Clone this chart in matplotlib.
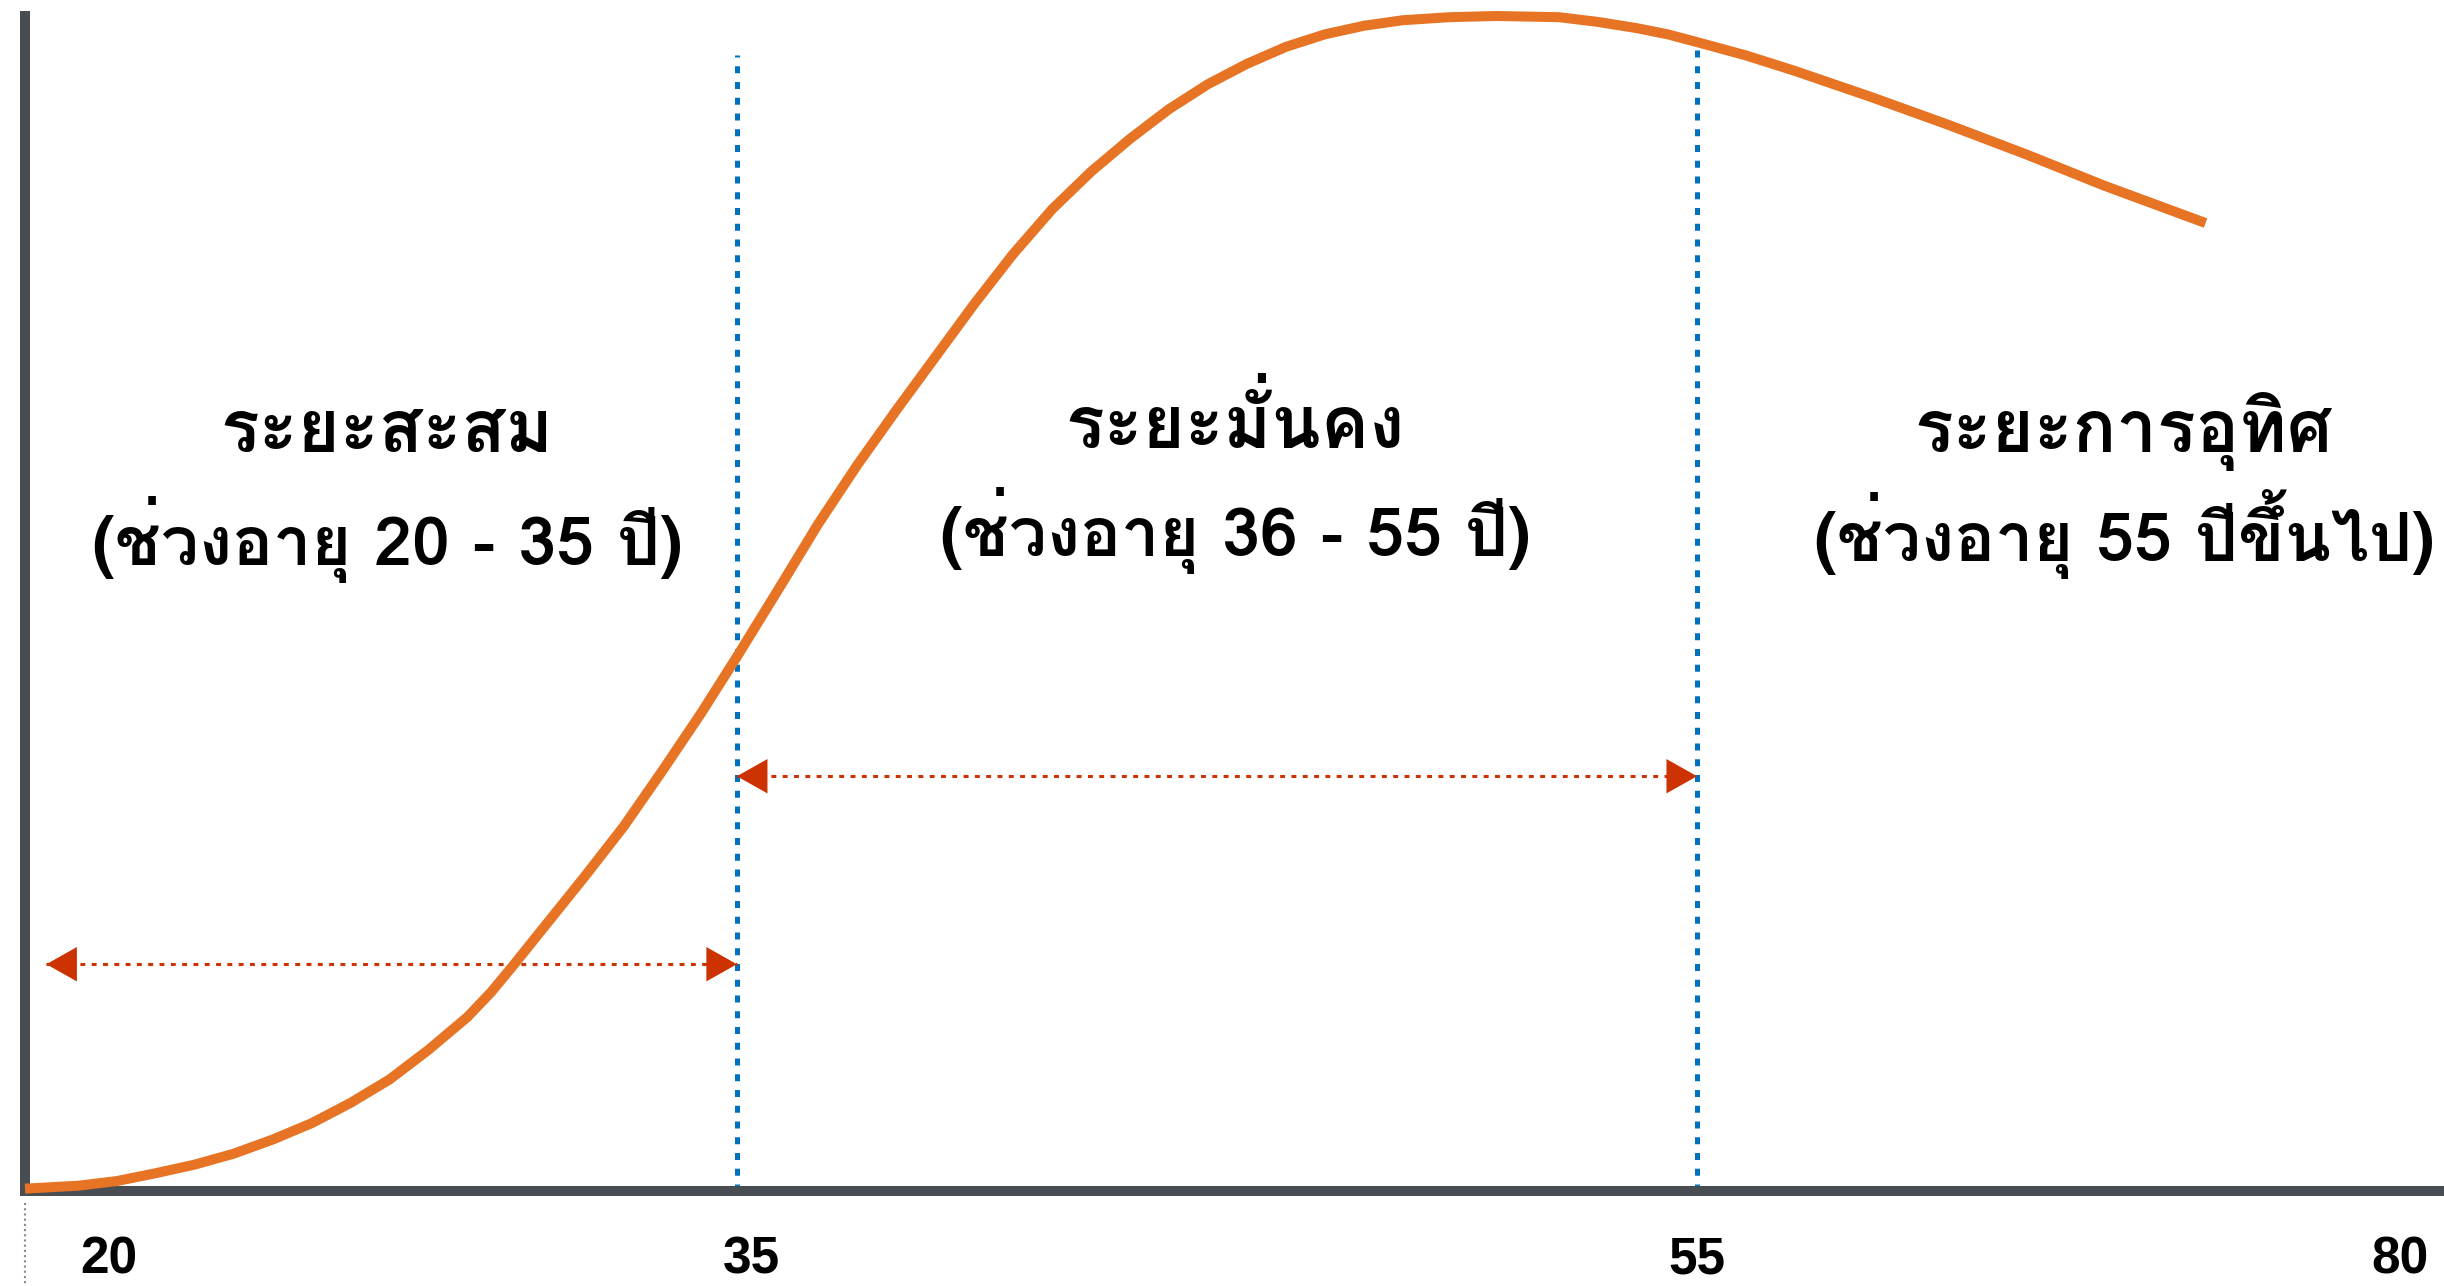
import matplotlib
matplotlib.use("Agg")
import numpy as np
import matplotlib.pyplot as plt
import matplotlib.transforms as mtrans
from matplotlib import font_manager
from matplotlib.ft2font import FT2Font

# ข้อมูลเส้นโค้ง (อายุ, ระดับความมั่งคั่ง 0-100)
ages = [20.0, 21.12, 21.94, 22.76, 23.58, 24.40, 25.22, 26.04, 26.86, 27.68,
        28.50, 29.32, 29.82, 30.31, 30.97, 31.79, 32.61, 33.43, 34.25, 35.0,
        35.88, 36.69, 37.51, 38.32, 39.13, 39.94, 40.75, 41.57, 42.38, 43.19,
        44.0, 44.81, 45.62, 46.44, 47.25, 48.06, 48.87, 49.85, 50.82, 52.12,
        52.93, 53.74, 54.39, 55.0, 56.63, 58.20, 60.80, 63.41, 66.02, 68.63,
        72.02]
wealth = [0.2, 0.45, 0.85, 1.52, 2.25, 3.18, 4.38, 5.77, 7.50, 9.49,
          12.01, 14.80, 16.92, 19.31, 22.63, 26.75, 31.00, 35.77, 40.69, 45.47,
          51.31, 56.75, 61.80, 66.45, 70.96, 75.47, 79.72, 83.57, 86.76, 89.55,
          92.07, 94.19, 95.92, 97.38, 98.44, 99.17, 99.64, 99.90, 100.0, 99.90,
          99.50, 98.97, 98.44, 97.78, 96.65, 95.39, 93.13, 90.74, 88.22, 85.56,
          82.38]

tick_ages = [20, 35, 55, 80]
tick_labels = ["20", "35", "55", "80"]
phase_bounds = [35, 55]
phase_titles = ["ระยะสะสม", "ระยะมั่นคง", "ระยะการอุทิศ"]
phase_ranges = ["(ช่วงอายุ 20 - 35 ปี)", "(ช่วงอายุ 36 - 55 ปี)", "(ช่วงอายุ 55 ปีขึ้นไป)"]
arrow_spans = [(20.45, 35, 19.3), (35, 55, 35.3)]


def หา_ฟอนต์ไทย():
    for f in font_manager.fontManager.ttflist:
        try:
            if 0x0E23 in FT2Font(f.fname).get_charmap():
                return f.name
        except Exception:
            pass
    return "DejaVu Sans"


thai = หา_ฟอนต์ไทย()

# สเกลแกน x แบบเป็นช่วง (20-55 ห่างเท่ากัน, 55-80 ถูกบีบ)
knot_pos = [0.0, 0.2943, 0.6912, 1.0]


def forward(a):
    return np.interp(a, tick_ages, knot_pos)


def inverse(p):
    return np.interp(p, knot_pos, tick_ages)


fig = plt.figure(figsize=(24.44, 12.86), dpi=100)
ax = fig.add_axes([25 / 2444, 95 / 1286, 1 - 25 / 2444, 1175 / 1286])
ax.set_xscale("function", functions=(forward, inverse))
ax.set_xlim(20, 80)
ax.set_ylim(0, 100)

axis_col = "#474D50"
for s in ["top", "right"]:
    ax.spines[s].set_visible(False)
for s in ["left", "bottom"]:
    ax.spines[s].set_color(axis_col)
    ax.spines[s].set_linewidth(7.2)
ax.set_yticks([])

ax.set_xticks(tick_ages, tick_labels)
ax.tick_params(axis="x", length=0, pad=32)
for lab in ax.get_xticklabels():
    lab.set_fontfamily("Liberation Sans")
    lab.set_fontweight("bold")
    lab.set_fontsize(37)
    lab.set_color("black")

# เลื่อน label ปลายทั้งสองด้าน
labs = ax.get_xticklabels()
labs[0].set_transform(labs[0].get_transform() + mtrans.ScaledTranslation(84 / 100, 0, fig.dpi_scale_trans))
labs[1].set_transform(labs[1].get_transform() + mtrans.ScaledTranslation(14 / 100, 0, fig.dpi_scale_trans))
labs[3].set_transform(labs[3].get_transform() + mtrans.ScaledTranslation(-44 / 100, 0, fig.dpi_scale_trans))

# เส้นประแนวตั้งสีน้ำเงิน
tops = [96.7, 97.4]
for b, t in zip(phase_bounds, tops):
    ax.plot([b, b], [0, t], color="#0070C0", lw=3.6, linestyle=(0, (1.4, 1.75)), zorder=2)

# ลูกศรสองทาง
red = "#CC3300"
for x0, x1, y in arrow_spans:
    ax.plot([x0, x1], [y, y], color=red, lw=2.2, linestyle=(0, (1.6, 2.1)), zorder=3)
    ax.annotate("", xy=(x1, y), xytext=(x0, y),
                arrowprops=dict(arrowstyle="<|-|>,head_length=1.1,head_width=0.62",
                                color=red, lw=0, shrinkA=0, shrinkB=0, mutation_scale=20),
                zorder=4)

# เส้นโค้ง
ax.plot(ages, wealth, color="#E67424", lw=7.2, solid_capstyle="butt",
        solid_joinstyle="round", clip_on=False, zorder=5)

# เส้นประเล็กใต้จุดกำเนิด
ax.plot([20, 20], [-1, -8.2], color="#888888", lw=1.5, linestyle=(0, (1, 1.5)), clip_on=False)

# ข้อความแต่ละช่วง
text_x = [27.63, 45.38, 69.29]
row1_y = [62.9, 63.2, 62.9]
row2_y = [53.3, 54.0, 53.6]
for x, t, r, y1, y2 in zip(text_x, phase_titles, phase_ranges, row1_y, row2_y):
    ax.text(x, y1, t, ha="center", va="baseline", fontsize=52, fontweight="bold",
            family=[thai, "DejaVu Sans"], color="black")
    ax.text(x, y2, r, ha="center", va="baseline", fontsize=49, fontweight="bold",
            family=[thai, "DejaVu Sans"], color="black")

fig.savefig("out.png", dpi=100)
